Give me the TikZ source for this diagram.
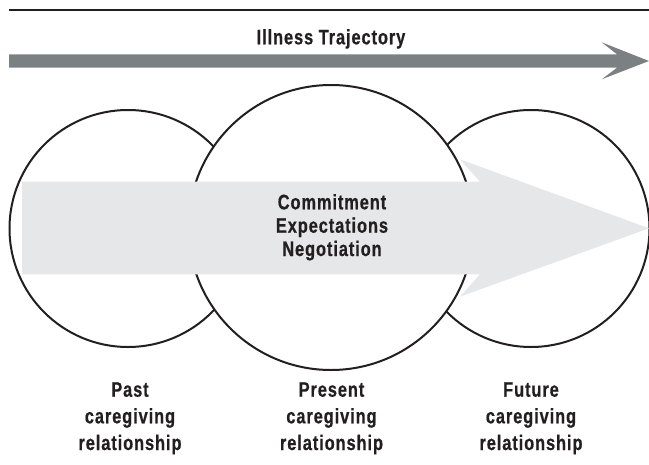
\documentclass[tikz,border=0pt]{standalone}
\usepackage{fontspec}
\newfontfamily\lblfont[FakeStretch=0.78,LetterSpace=4.4,FakeBold=0.6]{Liberation Sans}
\definecolor{ink}{HTML}{231F20}
\definecolor{trajgray}{HTML}{7B8182}
\definecolor{lightarrow}{HTML}{E6E7E8}
\tikzset{
  circ/.style={draw=ink, line width=2pt, fill=white},
  lbl/.style={text=ink, font=\lblfont\bfseries\fontsize{21}{24}\selectfont, inner sep=0pt, anchor=base}
}
\begin{document}
\begin{tikzpicture}[x=1pt,y=-1pt]
\useasboundingbox (0,0) rectangle (649,464);
% top rule
\coordinate (ruleL) at (9,10);
\coordinate (ruleR) at (649,10);
\draw[ink, line width=2pt] (ruleL) -- (ruleR);
% title
\node[lbl] (title) at (331,44.3) {Illness Trajectory};
% illness trajectory arrow
\fill[trajgray] (9,54.3) -- (617,54.3) -- (601.7,42.3) -- (649,61) -- (601.7,79.3) -- (617,67.7) -- (9,67.7) -- cycle;
% circles
\draw[circ] (128,228.5) circle[radius=118.5];
\draw[circ] (531,228.5) circle[radius=118.5];
\draw[circ] (331,227.5) circle[radius=142.5];
% light arrow
\fill[lightarrow] (22,181.7) -- (480,181.7) -- (460,159.3) -- (649,228.3) -- (460,296.7) -- (480,274.3) -- (22,274.3) -- cycle;
% inner text
\node[lbl] (c1) at (332,209.3) {Commitment};
\node[lbl] (c2) at (332,232.7) {Expectations};
\node[lbl] (c3) at (332,256) {Negotiation};
% bottom labels
\node[lbl] (pa1) at (130,396.7) {Past};
\node[lbl] (pa2) at (130,423.3) {caregiving};
\node[lbl] (pa3) at (130,450) {relationship};
\node[lbl] (pr1) at (331.5,396.7) {Present};
\node[lbl] (pr2) at (331.5,423.3) {caregiving};
\node[lbl] (pr3) at (331.5,450) {relationship};
\node[lbl] (fu1) at (531,396.7) {Future};
\node[lbl] (fu2) at (531,423.3) {caregiving};
\node[lbl] (fu3) at (531,450) {relationship};
\end{tikzpicture}
\end{document}
